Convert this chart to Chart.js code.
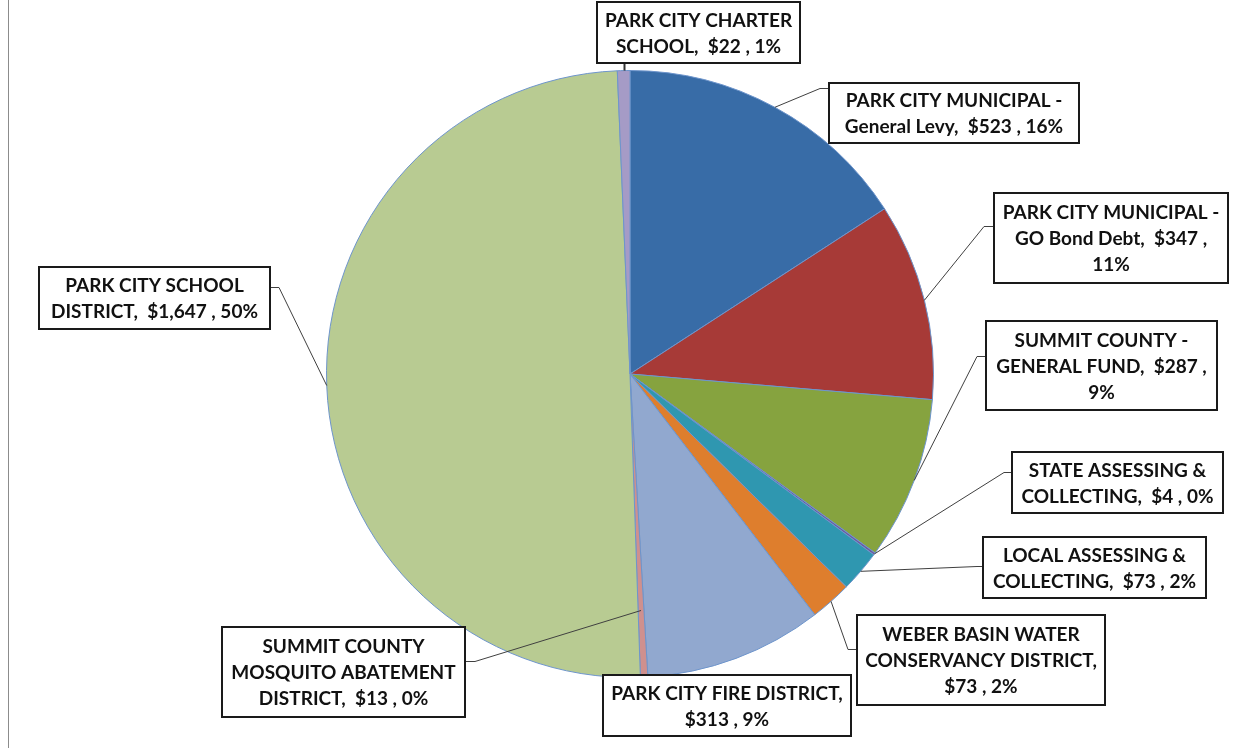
<!DOCTYPE html>
<html>
<head>
<meta charset="utf-8">
<script src="https://cdn.jsdelivr.net/npm/chart.js@4.4.1/dist/chart.umd.min.js"></script>
<style>
html,body{margin:0;padding:0;background:#fff;}
canvas{display:block;}
</style>
</head>
<body>
<canvas id="c" width="1252" height="748"></canvas>
<script>
// ---- data ----
const categories = [
  "PARK CITY MUNICIPAL - General Levy",
  "PARK CITY MUNICIPAL - GO Bond Debt",
  "SUMMIT COUNTY - GENERAL FUND",
  "STATE ASSESSING & COLLECTING",
  "LOCAL ASSESSING & COLLECTING",
  "WEBER BASIN WATER CONSERVANCY DISTRICT",
  "PARK CITY FIRE DISTRICT",
  "SUMMIT COUNTY MOSQUITO ABATEMENT DISTRICT",
  "PARK CITY SCHOOL DISTRICT",
  "PARK CITY CHARTER SCHOOL"
];
const values = [523, 347, 287, 4, 73, 73, 313, 13, 1647, 22];
const colors = ["#386CA7", "#A73A37", "#86A33F", "#6F5A9E", "#2F97B0",
                "#DE7E2D", "#91A8CF", "#CF908E", "#B8CB92", "#A59BC6"];

// label line templates ({v} = value, {p} = percent)
const labelTemplates = [
  ["PARK CITY MUNICIPAL -", "General Levy,  {v} , {p}"],
  ["PARK CITY MUNICIPAL -", "GO Bond Debt,  {v} ,", "{p}"],
  ["SUMMIT COUNTY -", "GENERAL FUND,  {v} ,", "{p}"],
  ["STATE ASSESSING &", "COLLECTING,  {v} , {p}"],
  ["LOCAL ASSESSING &", "COLLECTING,  {v} , {p}"],
  ["WEBER BASIN WATER", "CONSERVANCY DISTRICT,", "{v} , {p}"],
  ["PARK CITY FIRE DISTRICT,", "{v} , {p}"],
  ["SUMMIT COUNTY", "MOSQUITO ABATEMENT", "DISTRICT,  {v} , {p}"],
  ["PARK CITY SCHOOL", "DISTRICT,  {v} , {p}"],
  ["PARK CITY CHARTER", "SCHOOL,  {v} , {p}"]
];

// ---- layout: label boxes [x, y, w, h], attach side, elbow, anchor radius factor ----
const labelLayout = [
  {box:[829,83,250,60],  side:"left",  ay:88,  elbow:9,  r:1},
  {box:[994,193,234,90], side:"left",  ay:226, elbow:10, r:1},
  {box:[986,321,231,89], side:"left",  ay:356, elbow:9,  r:1},
  {box:[1012,452,211,61],side:"left",  ay:472, elbow:8,  r:1},
  {box:[983,537,223,61], side:"left",  ay:566, elbow:6,  r:1},
  {box:[857,615,248,90], side:"left",  ay:649, elbow:9,  r:1},
  {box:[603,675,248,61], side:"none",  ay:0,   elbow:0,  r:1},
  {box:[222,627,243,90], side:"right", ay:661, elbow:10, r:0.78},
  {box:[39,267,231,62],  side:"right", ay:287, elbow:9,  r:1},
  {box:[597,2,203,61],   side:"bottom",ay:0,   elbow:0,  r:1}
];

const total = values.reduce((a, b) => a + b, 0);
function fmtMoney(v){ return "$" + v.toLocaleString("en-US"); }
function fmtPct(v){ return Math.round(v / total * 100) + "%"; }

const labelPlugin = {
  id: "labelBoxes",
  beforeDraw(chart){
    const ctx = chart.ctx;
    ctx.save();
    ctx.fillStyle = "#fff";
    ctx.fillRect(0, 0, chart.width, chart.height);
    ctx.strokeStyle = "#8c8c8c";
    ctx.lineWidth = 1;
    ctx.beginPath();
    ctx.moveTo(8.5, 0); ctx.lineTo(8.5, chart.height);
    ctx.stroke();
    ctx.restore();
  },
  afterDraw(chart){
    const ctx = chart.ctx;
    const meta = chart.getDatasetMeta(0);
    ctx.save();
    meta.data.forEach((arc, i) => {
      const L = labelLayout[i];
      const mid = (arc.startAngle + arc.endAngle) / 2;
      const R = arc.outerRadius * L.r;
      const px = arc.x + Math.cos(mid) * R;
      const py = arc.y + Math.sin(mid) * R;
      const [bx, by, bw, bh] = L.box;
      // leader line
      ctx.strokeStyle = "#404040";
      ctx.lineWidth = 1;
      ctx.beginPath();
      if (L.side === "left") {
        ctx.moveTo(bx, L.ay + 0.5);
        ctx.lineTo(bx - L.elbow, L.ay + 0.5);
        ctx.lineTo(px, py);
        ctx.stroke();
      } else if (L.side === "right") {
        ctx.moveTo(bx + bw, L.ay + 0.5);
        ctx.lineTo(bx + bw + L.elbow, L.ay + 0.5);
        ctx.lineTo(px, py);
        ctx.stroke();
      } else if (L.side === "bottom") {
        ctx.moveTo(Math.round(px) + 0.5, by + bh);
        ctx.lineTo(Math.round(px) + 0.5, py);
        ctx.lineWidth = 2;
        ctx.strokeStyle = "#333";
        ctx.stroke();
      }
      // box
      ctx.fillStyle = "#fff";
      ctx.fillRect(bx, by, bw, bh);
      ctx.strokeStyle = "#1a1a1a";
      ctx.lineWidth = 2;
      ctx.strokeRect(bx, by, bw, bh);
      // text
      const lines = labelTemplates[i].map(t =>
        t.replace("{v}", fmtMoney(values[i])).replace("{p}", fmtPct(values[i])));
      ctx.fillStyle = "#111";
      ctx.font = "bold 19px Lato, 'DejaVu Sans', sans-serif";
      ctx.textAlign = "center";
      ctx.textBaseline = "middle";
      const lh = 26;
      const cy = by + bh / 2 - (lines.length - 1) * lh / 2;
      lines.forEach((ln, k) => ctx.fillText(ln, bx + bw / 2, cy + k * lh + 1));
    });
    ctx.restore();
  }
};

new Chart(document.getElementById("c"), {
  type: "pie",
  data: {
    labels: categories,
    datasets: [{
      data: values,
      backgroundColor: colors,
      borderColor: "#6E95CC",
      borderWidth: 1
    }]
  },
  options: {
    responsive: false,
    animation: false,
    layout: { padding: { left: 8, right: 0, top: 70, bottom: 70 } },
    plugins: { legend: { display: false }, tooltip: { enabled: false } }
  },
  plugins: [labelPlugin]
});
</script>
</body>
</html>
